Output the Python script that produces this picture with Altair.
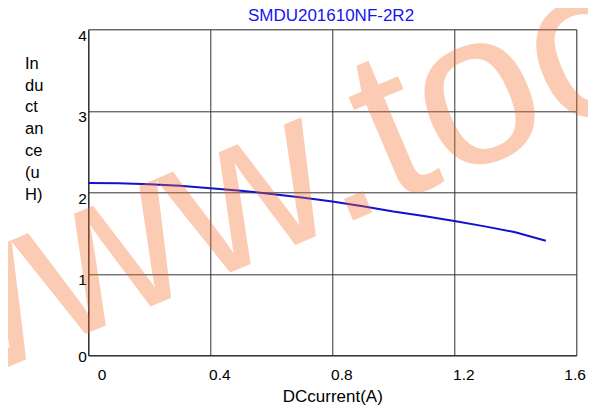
import altair as alt
import pandas as pd

current = [0.0, 0.1, 0.2, 0.3, 0.4, 0.5, 0.6, 0.7, 0.8, 0.9, 1.0, 1.1, 1.2, 1.3, 1.4, 1.5]
inductance = [2.115, 2.112, 2.10, 2.08, 2.05, 2.02, 1.98, 1.935, 1.888, 1.83, 1.765, 1.71, 1.648, 1.582, 1.51, 1.406]
x_ticks = [0, 0.4, 0.8, 1.2, 1.6]
y_ticks = [0, 1, 2, 3, 4]
title_text = ["SMDU201610NF-2R2"]
x_title = "DCcurrent(A)"
y_title = ["In", "du", "ct", "an", "ce", "(u", "H)"]
watermark = ["www.tocos.com"]

df = pd.DataFrame({"I": current, "L": inductance})
FONT = "Liberation Sans"

line = alt.Chart(df).mark_line(color="#1212cc", strokeWidth=2).encode(
    x=alt.X("I:Q", scale=alt.Scale(domain=[0, 1.6], nice=False),
            axis=alt.Axis(values=x_ticks, title=x_title, format="~g",
                          labelOffset=9, labelPadding=24, labelBaseline="alphabetic",
                          labelFontSize=15.5, labelFont=FONT, labelColor="#000",
                          ticks=False, tickSize=0, domainColor="#222",
                          gridColor="#333", gridOpacity=1, gridWidth=1,
                          titleFont=FONT, titleFontSize=17, titleFontWeight="normal",
                          titleColor="#000", titleBaseline="alphabetic", titleY=46)),
    y=alt.Y("L:Q", scale=alt.Scale(domain=[0, 4], nice=False),
            axis=alt.Axis(values=y_ticks, title=y_title, format="~g",
                          labelOffset=alt.ExprRef(expr="datum.value == 0 ? 6.4 : 11"),
                          labelBaseline="alphabetic", labelPadding=2,
                          labelFontSize=15.5, labelFont=FONT, labelColor="#000",
                          ticks=False, tickSize=0, domainColor="#222",
                          gridColor="#333", gridOpacity=1, gridWidth=1,
                          titleFont=FONT, titleFontSize=16.5, titleFontWeight="normal",
                          titleColor="#000", titleAngle=0, titleAlign="left",
                          titleBaseline="alphabetic", titleX=-63.8, titleY=39,
                          titleLineHeight=21.8)),
)

wm = alt.Chart(pd.DataFrame({"t": watermark})).mark_text(
    font=FONT, fontSize=218, angle=337, align="left", baseline="alphabetic",
    color="#f66d29", opacity=0.35,
).encode(text="t:N", x=alt.value(-177.3), y=alt.value(378.7))

title = alt.Chart(pd.DataFrame({"t": title_text})).mark_text(
    font=FONT, fontSize=17, align="center", baseline="alphabetic", color="#1515f0",
).encode(text="t:N", x=alt.value(242.7), y=alt.value(-8.3))

chart = alt.layer(line, wm, title).properties(
    width=488, height=326,
    padding={"left": 80.3, "top": 21.3, "right": 12, "bottom": 54.7},
    autosize=alt.AutoSizeParams(type="none"),
).configure_view(stroke="#222", strokeWidth=1).configure(background="white")

chart.save("out.html", embed_options={"renderer": "svg", "actions": False})
